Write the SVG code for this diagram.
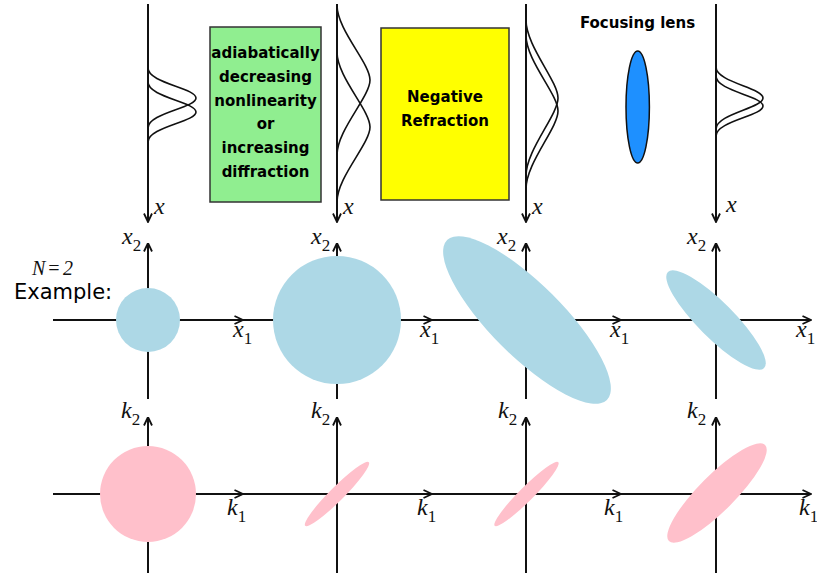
<svg xmlns="http://www.w3.org/2000/svg" width="817" height="573" viewBox="0 0 817 573">
<style>
.ax{stroke:#111;stroke-width:2;fill:none}
.g{stroke:#111;stroke-width:1.6;fill:none}
.box{stroke:#333;stroke-width:1.5}
.bt{font-family:"DejaVu Sans",sans-serif;font-weight:bold;font-size:15px;fill:#000;text-anchor:middle}
.it{font-family:"Liberation Serif",serif;font-style:italic;font-size:24px;fill:#111}
.sb{font-family:"Liberation Serif",serif;font-style:normal;font-size:17px;fill:#111}
.blue{fill:#ADD8E6}
.pink{fill:#FFC0CB}
</style>
<defs>
<marker id="arr" viewBox="0 0 10 10" refX="9.5" refY="5" markerWidth="10" markerHeight="10" markerUnits="userSpaceOnUse" orient="auto">
<path d="M1,1 L9.5,5 L1,9" fill="none" stroke="#111" stroke-width="1.8"/>
</marker>
</defs>
<g id="connectors">
<line class="ax" x1="148" y1="4" x2="148" y2="222" marker-end="url(#arr)"/>
<line class="ax" x1="337" y1="4" x2="337" y2="222" marker-end="url(#arr)"/>
<line class="ax" x1="526" y1="4" x2="526" y2="222" marker-end="url(#arr)"/>
<line class="ax" x1="716" y1="4" x2="716" y2="222" marker-end="url(#arr)"/>
<line class="ax" x1="148" y1="399" x2="148" y2="243" marker-end="url(#arr)"/>
<line class="ax" x1="337" y1="399" x2="337" y2="243" marker-end="url(#arr)"/>
<line class="ax" x1="526" y1="399" x2="526" y2="243" marker-end="url(#arr)"/>
<line class="ax" x1="716" y1="399" x2="716" y2="243" marker-end="url(#arr)"/>
<line class="ax" x1="53" y1="320" x2="243" y2="320" marker-end="url(#arr)"/>
<line class="ax" x1="243" y1="320" x2="432" y2="320" marker-end="url(#arr)"/>
<line class="ax" x1="432" y1="320" x2="621" y2="320" marker-end="url(#arr)"/>
<line class="ax" x1="621" y1="320" x2="811" y2="320" marker-end="url(#arr)"/>
<line class="ax" x1="148" y1="573" x2="148" y2="417" marker-end="url(#arr)"/>
<line class="ax" x1="337" y1="573" x2="337" y2="417" marker-end="url(#arr)"/>
<line class="ax" x1="526" y1="573" x2="526" y2="417" marker-end="url(#arr)"/>
<line class="ax" x1="716" y1="573" x2="716" y2="417" marker-end="url(#arr)"/>
<line class="ax" x1="53" y1="494" x2="243" y2="494" marker-end="url(#arr)"/>
<line class="ax" x1="243" y1="494" x2="432" y2="494" marker-end="url(#arr)"/>
<line class="ax" x1="432" y1="494" x2="621" y2="494" marker-end="url(#arr)"/>
<line class="ax" x1="621" y1="494" x2="811" y2="494" marker-end="url(#arr)"/>
</g>
<g id="pulses">
<path class="g" d="M148,68 C148,83 196,88 196,98 C196,108 148,113 148,128"/>
<path class="g" d="M148,82 C148,97 196,102 196,112 C196,122 148,127 148,142"/>
<path class="g" d="M337,5 C337,30 370,63 370,80 C370,97 337,130 337,155"/>
<path class="g" d="M337,52 C337,77 370,110 370,127 C370,144 337,177 337,202"/>
<path class="g" d="M526,20 C526,46 558,81 558,98 C558,115 526,150 526,176"/>
<path class="g" d="M526,35 C526,61 558,94 558,111 C558,128 526,163 526,189"/>
<path class="g" d="M716,67 C716,82 763,88 763,98 C763,108 716,114 716,129"/>
<path class="g" d="M716,76 C716,91 763,96 763,106 C763,116 716,121 716,136"/>
</g>
<g id="box-nonlinearity">
<rect class="box" x="210" y="27" width="111" height="175" fill="#90EE90"/>
<text class="bt" x="265.5" y="58">adiabatically</text>
<text class="bt" x="265.5" y="82">decreasing</text>
<text class="bt" x="265.5" y="105.5">nonlinearity</text>
<text class="bt" x="265.5" y="129">or</text>
<text class="bt" x="265.5" y="153">increasing</text>
<text class="bt" x="265.5" y="177">diffraction</text>
</g>
<g id="box-negative-refraction">
<rect class="box" x="381" y="28" width="128" height="172" fill="#FFFF00"/>
<text class="bt" x="445" y="101.5">Negative</text>
<text class="bt" x="445" y="126">Refraction</text>
</g>
<g id="focusing-lens">
<text class="bt" x="637.5" y="28">Focusing lens</text>
<ellipse cx="637.7" cy="107" rx="11.7" ry="56" fill="#1E90FF" stroke="#111" stroke-width="1.5"/>
</g>
<g id="x-space">
<circle class="blue" cx="148" cy="320" r="32"/>
<circle class="blue" cx="337" cy="320" r="64"/>
<ellipse class="blue" cx="0" cy="0" rx="113" ry="36" transform="translate(527,320) rotate(45)"/>
<ellipse class="blue" cx="0" cy="0" rx="68" ry="18" transform="translate(716,320) rotate(45)"/>
</g>
<g id="k-space">
<circle class="pink" cx="148" cy="494" r="48"/>
<ellipse class="pink" cx="0" cy="0" rx="45" ry="7" transform="translate(337,494) rotate(-45)"/>
<ellipse class="pink" cx="0" cy="0" rx="45" ry="7" transform="translate(526.5,494) rotate(-45)"/>
<ellipse class="pink" cx="0" cy="0" rx="68" ry="18" transform="translate(717,493) rotate(-45)"/>
</g>
<g id="labels">
<text class="it" x="154" y="214">x</text>
<text class="it" x="343" y="214">x</text>
<text class="it" x="532" y="214">x</text>
<text class="it" x="726" y="212">x</text>
<text class="it" x="122" y="244">x<tspan class="sb" dy="7">2</tspan></text>
<text class="it" x="311" y="244">x<tspan class="sb" dy="7">2</tspan></text>
<text class="it" x="497" y="244">x<tspan class="sb" dy="7">2</tspan></text>
<text class="it" x="687" y="244">x<tspan class="sb" dy="7">2</tspan></text>
<text class="it" x="233" y="337">x<tspan class="sb" dy="7">1</tspan></text>
<text class="it" x="420" y="337">x<tspan class="sb" dy="7">1</tspan></text>
<text class="it" x="610" y="337">x<tspan class="sb" dy="7">1</tspan></text>
<text class="it" x="796" y="337">x<tspan class="sb" dy="7">1</tspan></text>
<text class="it" x="121" y="418">k<tspan class="sb" dy="7">2</tspan></text>
<text class="it" x="311" y="418">k<tspan class="sb" dy="7">2</tspan></text>
<text class="it" x="498" y="418">k<tspan class="sb" dy="7">2</tspan></text>
<text class="it" x="687" y="418">k<tspan class="sb" dy="7">2</tspan></text>
<text class="it" x="227" y="515">k<tspan class="sb" dy="7">1</tspan></text>
<text class="it" x="417" y="515">k<tspan class="sb" dy="7">1</tspan></text>
<text class="it" x="604" y="515">k<tspan class="sb" dy="7">1</tspan></text>
<text class="it" x="799" y="515">k<tspan class="sb" dy="7">1</tspan></text>
</g>
<g id="example-label">
<text y="275" font-family="Liberation Serif, serif" font-style="italic" font-size="20" fill="#111"><tspan x="32">N</tspan><tspan x="47">=</tspan><tspan x="63">2</tspan></text>
<text x="14" y="299" font-family="DejaVu Sans, sans-serif" font-size="21" fill="#000">Example:</text>
</g>
</svg>
